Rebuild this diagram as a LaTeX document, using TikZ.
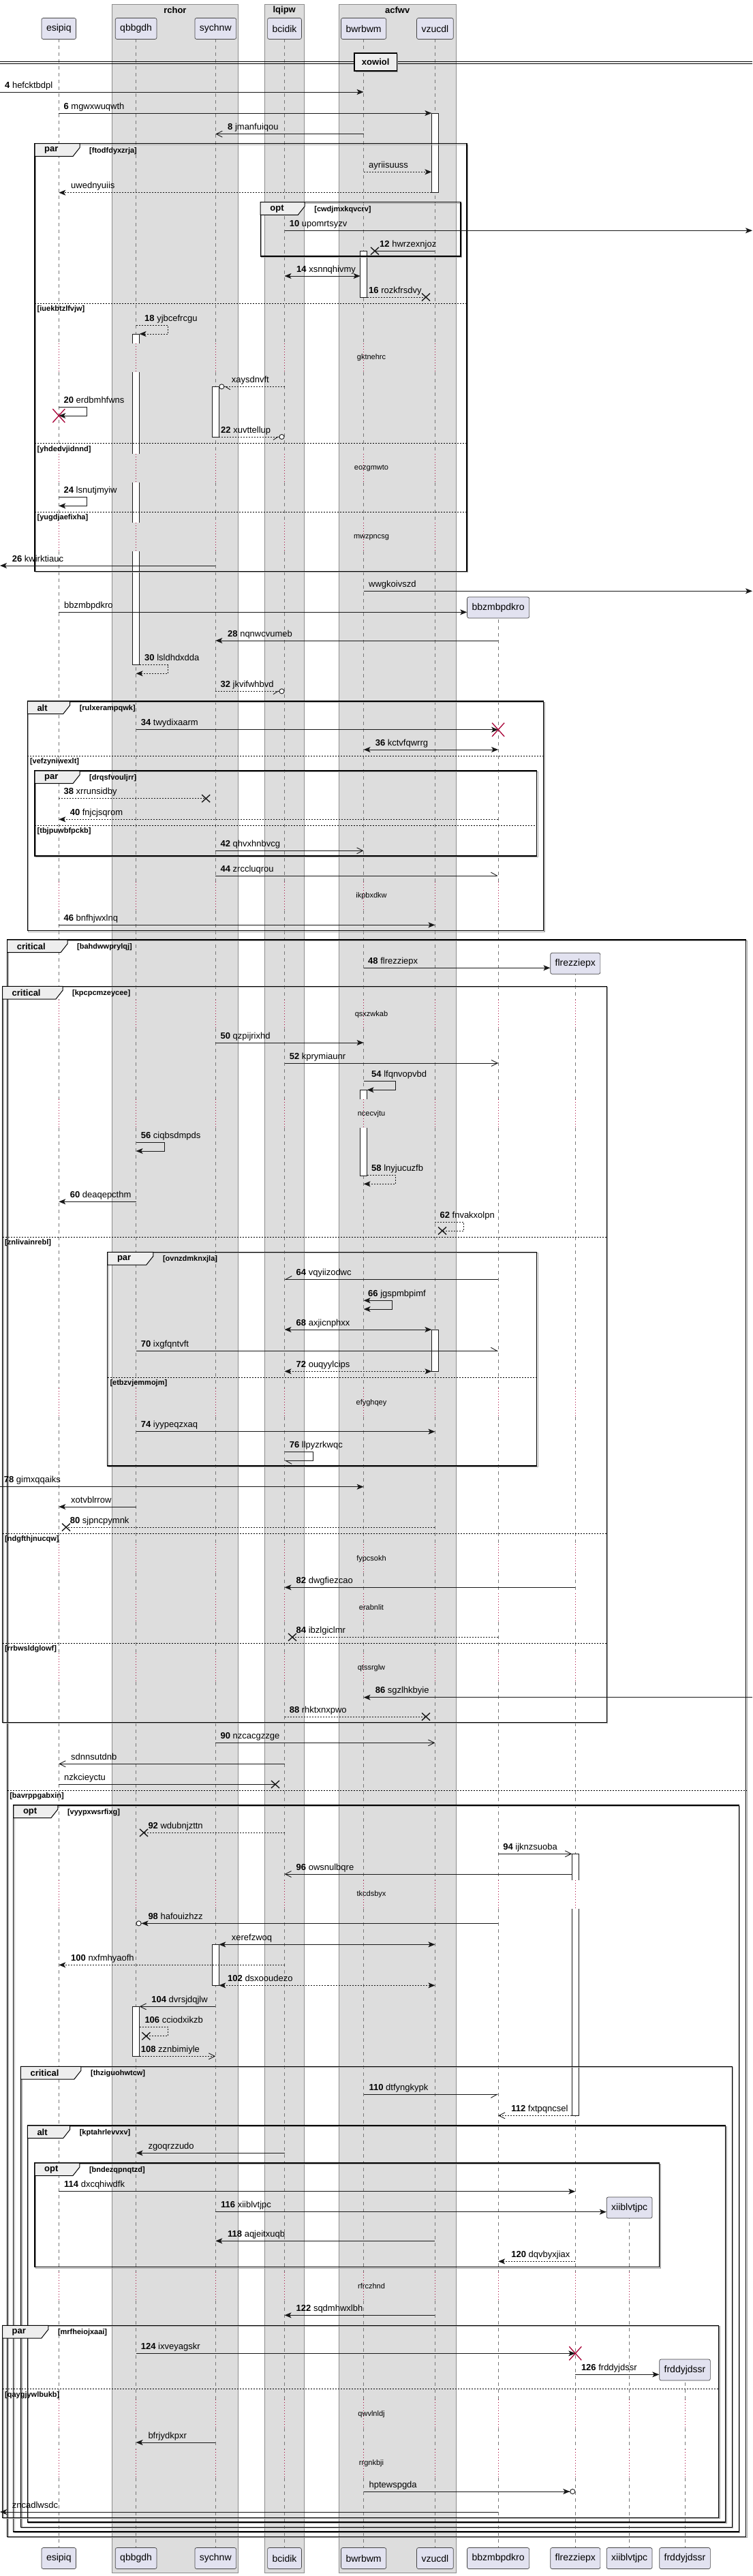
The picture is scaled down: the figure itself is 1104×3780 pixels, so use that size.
\documentclass[tikz,border=0pt]{standalone}
\usepackage{fontspec}
\setmainfont{Liberation Sans}
\usetikzlibrary{arrows.meta,calc}
\definecolor{grpc}{HTML}{DDDDDD}
\definecolor{partc}{HTML}{E2E2F0}
\definecolor{tabc}{HTML}{EEEEEE}
\definecolor{crim}{HTML}{A80036}
\definecolor{llc}{HTML}{777777}
\definecolor{inkc}{HTML}{181818}
\tikzset{
 grpbox/.style={fill=grpc, draw=black!45, line width=0.6pt},
 gtitle/.style={font=\bfseries\fontsize{13}{15}\selectfont, inner sep=0pt},
 pbox/.style={draw=inkc!80, fill=partc, rounded corners=2.5pt, minimum height=31pt, inner xsep=7pt, inner ysep=0pt, font=\fontsize{14}{16}\selectfont, line width=0.7pt},
 lifel/.style={draw=llc, line width=0.7pt, dash pattern=on 5pt off 5pt},
 delayl/.style={draw=crim, line width=0.8pt, dash pattern=on 1pt off 3pt},
 actl/.style={draw=inkc, line width=0.8pt},
 msg/.style={draw=inkc, line width=0.9pt},
 dmsg/.style={msg, dash pattern=on 2pt off 2pt},
 fa/.style={-{Stealth[length=10pt,width=8pt,inset=2.5pt]}},
 fb/.style={{Stealth[length=10pt,width=8pt,inset=2.5pt]}-{Stealth[length=10pt,width=8pt,inset=2.5pt]}},
 oa/.style={-{Straight Barb[length=9pt,width=9pt]}},
 hu/.style={-{Straight Barb[harpoon,length=9pt,width=10pt]}},
 hs/.style={-{Straight Barb[harpoon,swap,length=9pt,width=10pt]}},
 fo/.style={-{Stealth[length=10pt,width=8pt,inset=2.5pt] Circle[length=8pt,fill=white]}},
 hol/.style={-{Straight Barb[harpoon,length=7pt,width=9pt] Circle[length=8pt,fill=white]}},
 hor/.style={-{Straight Barb[harpoon,swap,length=7pt,width=9pt] Circle[length=8pt,fill=white]}},
 lab/.style={font=\fontsize{13}{15}\selectfont, inner sep=0pt, anchor=base west, yshift=6pt},
 dtxt/.style={font=\fontsize{11}{13}\selectfont, inner sep=1pt},
 kw/.style={font=\bfseries\fontsize{13}{15}\selectfont, inner sep=0pt, anchor=west},
 cond/.style={font=\bfseries\fontsize{11}{13}\selectfont, inner sep=0pt, anchor=west},
 frm/.style={draw=black, line width=1.3pt},
 frs/.style={draw=black!35, line width=1.3pt},
 sepl/.style={draw=black, line width=0.9pt, dash pattern=on 2pt off 2pt},
}
\newcommand\llne[2]{%
 \begin{scope}
 \clip (#1-4,#2) rectangle (#1+4,3738);
 \foreach \ya/\yb in {57/504,546/666.3,708.3/767.3,809.3/1294,1336/1467.3,1509.3/1613.3,1655.3/2037.3,2079.3/2266.3,2308.3/2338,2380/2426.3,2468.3/2759,2801/3334,3376/3521.3,3563.3/3594,3636/3738}
   {\draw[lifel] (#1,\ya) -- (#1,\yb);}
 \foreach \ya/\yb in {504/546,666.3/708.3,767.3/809.3,1294/1336,1467.3/1509.3,1613.3/1655.3,2037.3/2079.3,2266.3/2308.3,2338/2380,2426.3/2468.3,2759/2801,3334/3376,3521.3/3563.3,3594/3636}
   {\draw[delayl] (#1,\ya) -- (#1,\yb);}
 \end{scope}}
\newcommand\frme[8]{%
 \draw[frs] (#2+1.5,#3+1.5) rectangle (#4+1.5,#5+1.5);
 \draw[frm] (#2,#3) rectangle (#4,#5);
 \filldraw[fill=tabc, draw=black, line width=1pt] (#2,#3) -- (#2+#7,#3) -- (#2+#7,#3+6) -- (#2+#7-10,#3+18.7) -- (#2,#3+18.7) -- cycle;
 \node[kw] (#1k) at (#2+14,#3+10) {#6};
 \node[cond] (#1c) at (#2+#7+14,#3+10.5) {#8};}
\newcommand\sepr[5]{\draw[sepl] (#2,#4) -- (#3,#4); \node[cond] (#1) at (#2+3.5,#4+8.5) {#5};}
\newcommand\acttop[3]{\fill[white] (#1-5,#2) rectangle (#1+5,#3); \draw[actl] (#1-5,#3) -- (#1-5,#2) -- (#1+5,#2) -- (#1+5,#3);}
\newcommand\actmid[3]{\fill[white] (#1-5,#2) rectangle (#1+5,#3); \draw[actl] (#1-5,#2) -- (#1-5,#3) (#1+5,#2) -- (#1+5,#3);}
\newcommand\actbot[3]{\fill[white] (#1-5,#2) rectangle (#1+5,#3); \draw[actl] (#1-5,#2) -- (#1-5,#3) -- (#1+5,#3) -- (#1+5,#2);}
\newcommand\actful[3]{\filldraw[actl,fill=white] (#1-5,#2) rectangle (#1+5,#3);}
\newcommand\lostx[1]{\draw[inkc, line width=1.4pt] ($(#1)+(-6,-5.5)$) -- ($(#1)+(6,5.5)$) ($(#1)+(-6,5.5)$) -- ($(#1)+(6,-5.5)$);}
\newcommand\killx[1]{\draw[crim, line width=1.3pt] ($(#1)+(-9,-10)$) -- ($(#1)+(9,10)$) ($(#1)+(-9,10)$) -- ($(#1)+(9,-10)$);}
\begin{document}
\begin{tikzpicture}[x=1pt,y=-1pt]
\useasboundingbox (0,0) rectangle (1104,3780);
\fill[white] (0,0) rectangle (1104,3780);
% group boxes
\draw[grpbox] (164.2,6) rectangle (349.6,3775);
\node[gtitle] (g1) at (256.9,15) {rchor};
\draw[grpbox] (387.8,6) rectangle (446.6,3775);
\node[gtitle] (g2) at (417.2,15) {lqipw};
\draw[grpbox] (496.8,6) rectangle (669.5,3775);
\node[gtitle] (g3) at (583.2,15) {acfwv};
% lifeline coordinates
\foreach \n/\x in {1/86.3,2/199.6,3/316.3,4/417.5,5/533.6,6/638.4,7/731.1,8/844.3,9/923.6,10/1005}
 {\coordinate (L\n) at (\x,0); \coordinate (Ll\n) at (\x-5,0); \coordinate (Lr\n) at (\x+5,0);}
\coordinate (LE) at (0,0); \coordinate (RE) at (1104,0);
% lifelines
\llne{86.3}{57.3}\llne{199.6}{57.3}\llne{316.3}{57.3}\llne{417.5}{57.3}\llne{533.6}{57.3}\llne{638.4}{57.3}
\llne{731.1}{907.3}\llne{844.3}{1429.3}\llne{923.6}{3255.7}\llne{1005}{3493.3}
% participants
\foreach \n/\x/\t in {1/86.3/esipiq,2/199.6/qbbgdh,3/316.3/sychnw,4/417.5/bcidik,5/533.6/bwrbwm,6/638.4/vzucdl}
 {\node[pbox] (pt\n) at (\x,42) {\t};}
\foreach \n/\x/\t in {1/86.3/esipiq,2/199.6/qbbgdh,3/316.3/sychnw,4/417.5/bcidik,5/533.6/bwrbwm,6/638.4/vzucdl,7/731.1/bbzmbpdkro,8/844.3/flrezziepx,9/923.6/xiiblvtjpc,10/1005/frddyjdssr}
 {\node[pbox] (pb\n) at (\x,3754) {\t};}
\node[pbox] (pc7) at (731.1,891.5) {bbzmbpdkro};
\node[pbox] (pc8) at (844.3,1413.8) {flrezziepx};
\node[pbox] (pc9) at (923.6,3239.5) {xiiblvtjpc};
\node[pbox] (pc10) at (1005,3477.5) {frddyjdssr};
% divider
\draw[line width=1pt] (LE|-0,90) -- (RE|-0,90) (LE|-0,93.3) -- (RE|-0,93.3);
\fill[black!35] (521.7,79.4) rectangle (583.9,105.7);
\node[draw, line width=1.5pt, fill=tabc, minimum width=62.4pt, minimum height=26.3pt, inner sep=0pt, font=\bfseries\fontsize{13}{15}\selectfont] (div) at (551.2,90.9) {xowiol};
% delays text
\foreach \yc/\tx [count=\i] in {525/gktnehrc,687.3/eozgmwto,788.3/mwzpncsg,1315/ikpbxdkw,1488.3/qsxzwkab,1634.3/ncecvjtu,2058.3/efyghqey,2287.3/fypcsokh,2359/erabnlit,2447.3/qtssrglw,2780/tkcdsbyx,3355/rfrczhnd,3542.3/qwvlnldj,3615/rrgnkbji}
 {\node[dtxt] (dl\i) at (545,\yc) {\tx};}
% activations
\actful{638.4}{166}{282.7}
\actful{533.6}{368.3}{436}
\acttop{199.6}{490}{504}\actmid{199.6}{546}{666.3}\actmid{199.6}{708.3}{767.3}\actbot{199.6}{809.3}{975.7}
\actful{316.3}{567.3}{641}
\acttop{533.6}{1599.3}{1613.3}\actbot{533.6}{1655.3}{1725}
\actful{638.4}{1951}{2012.3}
\acttop{844.3}{2720.3}{2759}\actbot{844.3}{2801}{3104.3}
\actful{316.3}{2853.3}{2913.3}
\actful{199.6}{2944.3}{3017.3}
% frames
\frme{F1}{51}{210.7}{685}{838.3}{par}{66}{[ftodfdyxzrja]}
\sepr{s1}{51}{685}{445}{[iuekbtzlfvjw]}
\sepr{s2}{51}{685}{650.7}{[yhdedvjidnnd]}
\sepr{s3}{51}{685}{751.3}{[yugdjaefixha]}
\frme{F2}{382.2}{296.7}{675.9}{376}{opt}{65}{[cwdjmxkqvcrv]}
\frme{F3}{40.3}{1029}{797.6}{1365.7}{alt}{62.3}{[rulxerampqwk]}
\sepr{s4}{40.3}{797.6}{1109.3}{[vefzyniwexlt]}
\frme{F4}{51}{1131}{787.7}{1256}{par}{66}{[drqsfvouljrr]}
\sepr{s5}{51}{787.7}{1211.3}{[tbjpuwbfpckb]}
\frme{F5}{10.6}{1379}{1094.8}{3722.3}{critical}{88.4}{[bahdwwprylqj]}
\sepr{s6}{10.6}{1094.8}{2627.3}{[bavrppgabxin]}
\frme{F6}{3.5}{1447.3}{890.3}{2527.3}{critical}{88.5}{[kpcpcmzeycee]}
\sepr{s7}{3.5}{890.3}{1815}{[znlivainrebl]}
\sepr{s8}{3.5}{890.3}{2250}{[ndgfthjnucqw]}
\sepr{s9}{3.5}{890.3}{2411}{[rrbwsldglowf]}
\frme{F7}{157.8}{1837.3}{787.7}{2151}{par}{67}{[ovnzdmknxjla]}
\sepr{s10}{157.8}{787.7}{2021.3}{[etbzvjemmojm]}
\frme{F8}{19.8}{2649}{1084.2}{3715}{opt}{65}{[vyypxwsrfixg]}
\frme{F9}{30.4}{3032.3}{1074.3}{3708.3}{critical}{88.5}{[thziguohwtcw]}
\frme{F10}{40.3}{3119}{1064.4}{3701}{alt}{62.3}{[kptahrlevvxv]}
\frme{F11}{51}{3174}{967.4}{3326.7}{opt}{65.8}{[bndezqpnqtzd]}
\frme{F12}{3.5}{3412.3}{1054.5}{3694.3}{par}{67.3}{[mrfheiojxaai]}
\sepr{s11}{3.5}{1054.5}{3505.7}{[qaygjywlbukb]}
% messages
\draw[msg,fa] (LE|-0,135) -- (L5|-0,135);
\node[lab] (t4) at (7,135) {\textbf{4} hefcktbdpl};
\draw[msg,fa] (L1|-0,166) -- (Ll6|-0,166);
\node[lab] (t6) at (93.4,166) {\textbf{6} mgwxwuqwth};
\draw[msg,oa] (L5|-0,196.7) -- (L3|-0,196.7);
\node[lab] (t8) at (334,196.7) {\textbf{8} jmanfuiqou};
\draw[dmsg,fa] (L5|-0,252.3) -- (Ll6|-0,252.3);
\node[lab] (ta) at (541,252.3) {ayriisuuss};
\draw[dmsg,fa] (Ll6|-0,282.7) -- (L1|-0,282.7);
\node[lab] (tb) at (104,282.7) {uwednyuiis};
\draw[msg,fa] (L4|-0,338.3) -- (RE|-0,338.3);
\node[lab] (t10) at (424.6,338.3) {\textbf{10} upomrtsyzv};
\coordinate (x12) at (550,368.3);
\draw[msg] (L6|-x12) -- (x12); \lostx{x12}
\node[lab] (t12) at (557,368.3) {\textbf{12} hwrzexnjoz};
\draw[msg,fb] (L4|-0,405) -- (Ll5|-0,405);
\node[lab] (t14) at (435,405) {\textbf{14} xsnnqhivmy};
\coordinate (x16) at (625,436);
\draw[dmsg] (Lr5|-x16) -- (x16); \lostx{x16}
\node[lab] (t16) at (541,436) {\textbf{16} rozkfrsdvy};
\draw[dmsg,fa] (L2|-0,477.3) -| (246.3,490) -- (Lr2|-0,490);
\node[lab] (t18) at (212,477.3) {\textbf{18} yjbcefrcgu};
\draw[dmsg,hol] (L4|-0,567.3) -- (Lr3|-0,567.3);
\node[lab] (tc) at (339.7,567.3) {xaysdnvft};
\draw[msg,fa] (L1|-0,597.3) -| (127.4,610) -- (L1|-0,610);
\node[lab] (t20) at (93.4,597.3) {\textbf{20} erdbmhfwns};
\coordinate (k20) at (L1|-0,610);
\draw[dmsg,hor] (Lr3|-0,641) -- (L4|-0,641);
\node[lab] (t22) at (324,641) {\textbf{22} xuvttellup};
\draw[msg,fa] (L1|-0,729.3) -| (127.4,742.3) -- (L1|-0,742.3);
\node[lab] (t24) at (93.4,729.3) {\textbf{24} lsnutjmyiw};
\draw[msg,fa] (L3|-0,830) -- (LE|-0,830);
\node[lab] (t26) at (17.7,830) {\textbf{26} kwirktiauc};
\draw[msg,fa] (L5|-0,867.3) -- (RE|-0,867.3);
\node[lab] (td) at (541,867.3) {wwgkoivszd};
\draw[msg,fa] (L1|-0,898.3) -- (pc7.west|-0,898.3);
\node[lab] (te) at (94,898.3) {bbzmbpdkro};
\draw[msg,fa] (L7|-0,940) -- (L3|-0,940);
\node[lab] (t28) at (334,940) {\textbf{28} nqnwcvumeb};
\draw[dmsg,fa] (Lr2|-0,975.7) -| (246.3,988.3) -- (L2|-0,988.3);
\node[lab] (t30) at (212,975.7) {\textbf{30} lsldhdxdda};
\draw[dmsg,hor] (L3|-0,1014.3) -- (L4|-0,1014.3);
\node[lab] (t32) at (323.4,1014.3) {\textbf{32} jkvifwhbvd};
\draw[msg,fa] (L2|-0,1070.7) -- (L7|-0,1070.7);
\coordinate (k34) at (L7|-0,1070.7);
\node[lab] (t34) at (206.7,1070.7) {\textbf{34} twydixaarm};
\draw[msg,fb] (L5|-0,1100) -- (L7|-0,1100);
\node[lab] (t36) at (550.6,1100) {\textbf{36} kctvfqwrrg};
\coordinate (x38) at (302.2,1171.7);
\draw[dmsg] (L1|-x38) -- (x38); \lostx{x38}
\node[lab] (t38) at (93.4,1171.7) {\textbf{38} xrrunsidby};
\draw[dmsg,fa] (L7|-0,1202.3) -- (L1|-0,1202.3);
\node[lab] (t40) at (102.6,1202.3) {\textbf{40} fnjcjsqrom};
\draw[msg,oa] (L3|-0,1248.3) -- (L5|-0,1248.3);
\node[lab] (t42) at (323.4,1248.3) {\textbf{42} qhvxhnbvcg};
\draw[msg,hu] (L3|-0,1285) -- (L7|-0,1285);
\node[lab] (t44) at (323.4,1285) {\textbf{44} zrccluqrou};
\draw[msg,fa] (L1|-0,1357.3) -- (L6|-0,1357.3);
\node[lab] (t46) at (93.4,1357.3) {\textbf{46} bnfhjwxlnq};
\draw[msg,fa] (L5|-0,1420.3) -- (pc8.west|-0,1420.3);
\node[lab] (t48) at (540,1420.3) {\textbf{48} flrezziepx};
\draw[msg,fa] (L3|-0,1530) -- (L5|-0,1530);
\node[lab] (t50) at (323.4,1530) {\textbf{50} qzpijrixhd};
\draw[msg,oa] (L4|-0,1560) -- (L7|-0,1560);
\node[lab] (t52) at (424.6,1560) {\textbf{52} kprymiaunr};
\draw[msg,fa] (L5|-0,1586) -| (580.3,1599.3) -- (Lr5|-0,1599.3);
\node[lab] (t54) at (545,1586) {\textbf{54} lfqnvopvbd};
\draw[msg,fa] (L2|-0,1676) -| (241.3,1689) -- (L2|-0,1689);
\node[lab] (t56) at (206.7,1676) {\textbf{56} ciqbsdmpds};
\draw[dmsg,fa] (Lr5|-0,1724.3) -| (580.3,1737.3) -- (L5|-0,1737.3);
\node[lab] (t58) at (545,1724.3) {\textbf{58} lnyjucuzfb};
\draw[msg,fa] (L2|-0,1763.3) -- (L1|-0,1763.3);
\node[lab] (t60) at (102.6,1763.3) {\textbf{60} deaqepcthm};
\coordinate (x62) at (649,1806);
\draw[dmsg] (L6|-0,1793.3) -| (680.8,1806) -- (x62); \lostx{x62}
\node[lab] (t62) at (645.4,1793.3) {\textbf{62} fnvakxolpn};
\draw[msg,hs] (L7|-0,1877.3) -- (L4|-0,1877.3);
\node[lab] (t64) at (434.5,1877.3) {\textbf{64} vqyiizodwc};
\draw[msg,fb] (L5|-0,1908.3) -| (575.4,1921) -- (L5|-0,1921);
\node[lab] (t66) at (540,1908.3) {\textbf{66} jgspmbpimf};
\draw[msg,fb] (L4|-0,1951) -- (Ll6|-0,1951);
\node[lab] (t68) at (434.5,1951) {\textbf{68} axjicnphxx};
\draw[msg,hu] (L2|-0,1982.3) -- (L7|-0,1982.3);
\node[lab] (t70) at (206.7,1982.3) {\textbf{70} ixgfqntvft};
\draw[dmsg,fb] (L4|-0,2012.3) -- (Ll6|-0,2012.3);
\node[lab] (t72) at (434.5,2012.3) {\textbf{72} ouqyylcips};
\draw[msg,fa] (L2|-0,2100.7) -- (L6|-0,2100.7);
\node[lab] (t74) at (206.7,2100.7) {\textbf{74} iyypeqzxaq};
\draw[msg,hu] (L4|-0,2130) -| (459.3,2143.3) -- (L4|-0,2143.3);
\node[lab] (t76) at (424.6,2130) {\textbf{76} llpyzrkwqc};
\draw[msg,fa] (LE|-0,2181.7) -- (L5|-0,2181.7);
\node[lab] (t78) at (5.7,2181.7) {\textbf{78} gimxqqaiks};
\draw[msg,fa] (L2|-0,2211) -- (L1|-0,2211);
\node[lab] (tf) at (104,2211) {xotvblrrow};
\coordinate (x80) at (97,2241);
\draw[dmsg] (L6|-x80) -- (x80); \lostx{x80}
\node[lab] (t80) at (102.6,2241) {\textbf{80} sjpncpymnk};
\draw[msg,fa] (L8|-0,2329.3) -- (L4|-0,2329.3);
\node[lab] (t82) at (434.5,2329.3) {\textbf{82} dwgfiezcao};
\coordinate (x84) at (429,2402.3);
\draw[dmsg] (L7|-x84) -- (x84); \lostx{x84}
\node[lab] (t84) at (434.5,2402.3) {\textbf{84} ibzlgiclmr};
\draw[msg,fa] (RE|-0,2490.7) -- (L5|-0,2490.7);
\node[lab] (t86) at (550.6,2490.7) {\textbf{86} sgzlhkbyie};
\coordinate (x88) at (625,2519);
\draw[dmsg] (L4|-x88) -- (x88); \lostx{x88}
\node[lab] (t88) at (424.6,2519) {\textbf{88} rhktxnxpwo};
\draw[msg,oa] (L3|-0,2557.3) -- (L6|-0,2557.3);
\node[lab] (t90) at (323.4,2557.3) {\textbf{90} nzcacgzzge};
\draw[msg,oa] (L4|-0,2588.3) -- (L1|-0,2588.3);
\node[lab] (tg) at (104,2588.3) {sdnnsutdnb};
\coordinate (xh) at (404,2618.3);
\draw[msg] (L1|-xh) -- (xh); \lostx{xh}
\node[lab] (th) at (94,2618.3) {nzkcieyctu};
\coordinate (x92) at (211,2689.3);
\draw[dmsg] (L4|-x92) -- (x92); \lostx{x92}
\node[lab] (t92) at (217.3,2689.3) {\textbf{92} wdubnjzttn};
\draw[msg,oa] (L7|-0,2720.3) -- (Ll8|-0,2720.3);
\node[lab] (t94) at (738.1,2720.3) {\textbf{94} ijknzsuoba};
\draw[msg,oa] (Ll8|-0,2750) -- (L4|-0,2750);
\node[lab] (t96) at (434.5,2750) {\textbf{96} owsnulbqre};
\draw[msg,fo] (L7|-0,2822.3) -- (L2|-0,2822.3);
\node[lab] (t98) at (217.3,2822.3) {\textbf{98} hafouizhzz};
\draw[msg,fb] (Lr3|-0,2853.3) -- (L6|-0,2853.3);
\node[lab] (ti) at (339.7,2853.3) {xerefzwoq};
\draw[dmsg,fa] (L4|-0,2883.3) -- (L1|-0,2883.3);
\node[lab] (t100) at (104,2883.3) {\textbf{100} nxfmhyaofh};
\draw[dmsg,fb] (Lr3|-0,2913.3) -- (L6|-0,2913.3);
\node[lab] (t102) at (334,2913.3) {\textbf{102} dsxooudezo};
\draw[msg,oa] (L3|-0,2944.3) -- (Lr2|-0,2944.3);
\node[lab] (t104) at (222.2,2944.3) {\textbf{104} dvrsjdqjlw};
\coordinate (x106) at (214.4,2987.7);
\draw[dmsg] (Lr2|-0,2974.3) -| (246.3,2987.7) -- (x106); \lostx{x106}
\node[lab] (t106) at (212.3,2974.3) {\textbf{106} cciodxikzb};
\draw[dmsg,oa] (Lr2|-0,3017.3) -- (L3|-0,3017.3);
\node[lab] (t108) at (206.7,3017.3) {\textbf{108} zznbimiyle};
\draw[msg,hs] (L5|-0,3073.3) -- (L7|-0,3073.3);
\node[lab] (t110) at (541.4,3073.3) {\textbf{110} dtfyngkypk};
\draw[dmsg,oa] (Ll8|-0,3104.3) -- (L7|-0,3104.3);
\node[lab] (t112) at (750.2,3104.3) {\textbf{112} fxtpqncsel};
\draw[msg,fa] (L4|-0,3159.3) -- (L2|-0,3159.3);
\node[lab] (tj) at (217.3,3159.3) {zgoqrzzudo};
\draw[msg,fa] (L1|-0,3215.7) -- (L8|-0,3215.7);
\node[lab] (t114) at (94,3215.7) {\textbf{114} dxcqhiwdfk};
\draw[msg,fa] (L3|-0,3245.7) -- (pc9.west|-0,3245.7);
\node[lab] (t116) at (324,3245.7) {\textbf{116} xiiblvtjpc};
\draw[msg,fa] (L6|-0,3288.3) -- (L3|-0,3288.3);
\node[lab] (t118) at (334,3288.3) {\textbf{118} aqjeitxuqb};
\draw[dmsg,fa] (L8|-0,3318.3) -- (L7|-0,3318.3);
\node[lab] (t120) at (750.2,3318.3) {\textbf{120} dqvbyxjiax};
\draw[msg,fa] (L6|-0,3397.3) -- (L4|-0,3397.3);
\node[lab] (t122) at (434.5,3397.3) {\textbf{122} sqdmhwxlbh};
\draw[msg,fa] (L2|-0,3453.3) -- (L8|-0,3453.3);
\coordinate (k124) at (L8|-0,3453.3);
\node[lab] (t124) at (206.7,3453.3) {\textbf{124} ixveyagskr};
\draw[msg,fa] (L8|-0,3484.3) -- (pc10.west|-0,3484.3);
\node[lab] (t126) at (852.8,3484.3) {\textbf{126} frddyjdssr};
\draw[msg,fa] (L3|-0,3584) -- (L2|-0,3584);
\node[lab] (tk) at (217.3,3584) {bfrjydkpxr};
\draw[msg,fo] (L5|-0,3656) -- (L8|-0,3656);
\node[lab] (tl) at (541.4,3656) {hptewspgda};
\draw[msg,fa] (L7|-0,3686) -- (LE|-0,3686);
\node[lab] (tm) at (17.7,3686) {zncadlwsdc};
% destroy marks
\killx{k20}\killx{k34}\killx{k124}
\end{tikzpicture}
\end{document}
